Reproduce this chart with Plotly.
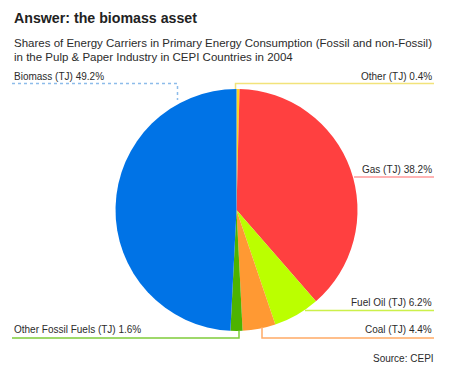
import plotly.graph_objects as go

W, H = 455, 370

labels = ["Other (TJ)", "Gas (TJ)", "Fuel Oil (TJ)", "Coal (TJ)", "Other Fossil Fuels (TJ)", "Biomass (TJ)"]
values = [0.4, 38.2, 6.2, 4.4, 1.6, 49.2]
colors = ["#FFD21E", "#FF4040", "#BBFF00", "#FF9933", "#4DB300", "#0073E6"]
line_colors = ["#F2E37A", "#FF9A9A", "#CCF04A", "#FFAA66", "#7FCC3A", "#8DBCEA"]

title = "Answer: the biomass asset"
subtitle = ["Shares of Energy Carriers in Primary Energy Consumption (Fossil and non-Fossil)",
            "in the Pulp & Paper Industry in CEPI Countries in 2004"]
source = "Source: CEPI"

def px(x):
    return x / W

def py(y):
    return 1 - y / H

# pie placement in pixels
cx, cy, r = 236.5, 210, 121

fig = go.Figure(go.Pie(
    labels=labels, values=values, sort=False, direction="clockwise", rotation=0,
    marker=dict(colors=colors, line=dict(width=0)),
    textinfo="none", hoverinfo="label+percent", showlegend=False,
    domain=dict(x=[px(cx - r), px(cx + r)], y=[py(cy + r), py(cy - r)]),
))

font = "Liberation Sans, Arial, sans-serif"
tc = "#2b2b2b"

ann = []
ann.append(dict(text=f"<b>{title}</b>", x=px(12), y=py(18), xanchor="left", yanchor="middle",
                font=dict(size=14.2, color="#222", family=font)))
ann.append(dict(text=subtitle[0], x=px(12), y=py(42.5), xanchor="left", yanchor="middle",
                font=dict(size=11.5, color=tc, family=font)))
ann.append(dict(text=subtitle[1], x=px(12), y=py(57.5), xanchor="left", yanchor="middle",
                font=dict(size=11.5, color=tc, family=font)))
ann.append(dict(text=source, x=px(436), y=py(358), xanchor="right", yanchor="middle",
                font=dict(size=10, color=tc, family=font)))

# label layout: (label index) -> (text x, text y, anchor, leader polyline in pixels)
label_pos = {
    5: (12, 76, "left", [(12, 83.5), (177.5, 83.5), (177.5, 100)]),
    0: (434, 76, "right", [(434, 83.5), (235.5, 83.5), (235.5, 89)]),
    1: (434, 169, "right", [(434, 177), (354, 177)]),
    2: (434, 302.5, "right", [(434, 310.5), (305, 310.5)]),
    3: (434, 329.5, "right", [(434, 338), (262, 338), (262, 327)]),
    4: (12, 329.5, "left", [(12, 338), (239, 338), (239, 331)]),
}

shapes = []
for i, (tx, ty, anc, pts) in label_pos.items():
    ann.append(dict(text=f"{labels[i]} {values[i]}%", x=px(tx), y=py(ty), xanchor=anc,
                    yanchor="middle", font=dict(size=10, color=tc, family=font)))
    path = "M " + " L ".join(f"{px(x)},{py(y)}" for x, y in pts)
    shapes.append(dict(type="path", path=path, xref="paper", yref="paper",
                       line=dict(color=line_colors[i], width=1.5,
                                 dash="dot" if i == 5 else "solid")))

for a in ann:
    a.update(xref="paper", yref="paper", showarrow=False)

fig.update_layout(width=W, height=H, margin=dict(l=0, r=0, t=0, b=0),
                  paper_bgcolor="white", plot_bgcolor="white",
                  annotations=ann, shapes=shapes)

fig.write_html("out.html", config={"displayModeBar": False},
               post_script="document.body.style.margin='0';document.body.style.overflow='hidden';")
